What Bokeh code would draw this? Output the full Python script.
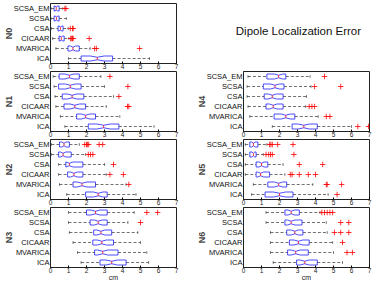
from bokeh.plotting import figure
from bokeh.layouts import row, column
from bokeh.models import Range1d, FixedTicker, ColumnDataSource, Label
from bokeh.embed import file_html
from bokeh.resources import INLINE

CATEGORIES = ["SCSA_EM", "SCSA", "CSA", "CICAAR", "MVARICA", "ICA"]
X_TICKS = [0, 1, 2, 3, 4, 5, 6, 7]
TITLE = "Dipole Localization Error"
X_LABEL = "cm"

# ---- N0 ----
N0_lo = [0.03, 0.03, 0.05, 0.12, 0.30, 1.00]
N0_q1 = [0.20, 0.20, 0.42, 0.48, 0.97, 1.70]
N0_med = [0.32, 0.33, 0.55, 0.60, 1.25, 2.60]
N0_q3 = [0.48, 0.48, 0.70, 0.76, 1.60, 3.45]
N0_hi = [0.68, 0.88, 0.98, 1.02, 2.20, 5.50]
N0_out = [[0.80, 0.86], [], [1.10, 1.22, 1.26], [1.12, 1.18, 1.22, 1.26, 2.15], [2.45, 2.55, 4.95], []]

# ---- N1 ----
N1_lo = [0.15, 0.20, 0.25, 0.30, 0.55, 0.80]
N1_q1 = [0.48, 0.45, 0.65, 0.75, 1.45, 2.10]
N1_med = [1.05, 1.10, 1.20, 1.35, 1.95, 2.95]
N1_q3 = [1.60, 1.70, 1.85, 1.95, 2.50, 3.80]
N1_hi = [2.80, 3.00, 3.50, 3.10, 3.85, 5.75]
N1_out = [[3.30], [4.30], [3.80], [4.28, 4.35], [], []]

# ---- N2 ----
N2_lo = [0.05, 0.05, 0.45, 0.45, 0.50, 0.90]
N2_q1 = [0.50, 0.45, 0.85, 0.95, 1.25, 1.95]
N2_med = [0.75, 0.70, 1.05, 1.30, 1.75, 2.65]
N2_q3 = [1.05, 1.15, 1.80, 1.80, 2.50, 3.15]
N2_hi = [1.60, 1.95, 3.00, 3.10, 4.20, 4.75]
N2_out = [[1.90, 2.00, 2.05, 2.12, 2.70, 2.90], [2.10, 2.22, 2.35], [3.50], [3.30, 4.05], [4.35], []]

# ---- N3 ----
N3_lo = [1.00, 1.00, 1.05, 1.25, 1.50, 1.70]
N3_q1 = [2.00, 2.20, 2.40, 2.35, 2.45, 2.75]
N3_med = [2.50, 2.65, 2.80, 2.85, 2.90, 3.40]
N3_q3 = [3.15, 3.15, 3.40, 3.50, 3.75, 4.20]
N3_hi = [4.65, 4.30, 4.85, 5.00, 5.35, 5.45]
N3_out = [[5.35, 5.95], [5.00], [], [], [], []]

# ---- N4 ----
N4_lo = [0.25, 0.20, 0.20, 0.25, 0.35, 1.60]
N4_q1 = [1.30, 1.10, 1.15, 1.25, 1.70, 2.70]
N4_med = [1.95, 1.75, 1.60, 1.65, 2.35, 3.35]
N4_q3 = [2.35, 2.25, 2.20, 2.20, 2.85, 4.10]
N4_hi = [3.70, 3.75, 3.50, 3.45, 4.15, 6.00]
N4_out = [[4.50], [3.95, 5.40], [], [3.65, 3.80, 3.95], [4.60, 4.80], [6.35, 6.95]]

# ---- N5 ----
N5_lo = [0.10, 0.10, 0.10, 0.10, 0.55, 0.45]
N5_q1 = [0.35, 0.35, 0.70, 0.70, 1.35, 1.20]
N5_med = [0.55, 0.55, 1.00, 0.95, 1.95, 2.00]
N5_q3 = [0.80, 0.70, 1.35, 1.45, 2.40, 2.75]
N5_hi = [1.30, 1.10, 2.20, 2.30, 3.85, 4.70]
N5_out = [[1.45, 1.52, 1.60, 1.90, 2.75], [1.25, 1.40, 1.50, 1.60, 2.80], [3.10, 4.40],
          [2.60, 2.70, 3.10, 3.60, 4.00], [4.60, 4.65, 5.45], [5.20]]

# ---- N6 ----
N6_lo = [1.25, 1.25, 1.50, 1.50, 1.50, 1.65]
N6_q1 = [2.30, 2.30, 2.40, 2.55, 2.45, 2.95]
N6_med = [2.65, 2.65, 2.85, 3.05, 2.90, 3.40]
N6_q3 = [3.10, 3.25, 3.30, 3.65, 3.60, 4.10]
N6_hi = [4.25, 4.60, 4.65, 4.95, 5.00, 5.50]
N6_out = [[4.35, 4.50, 4.65, 4.80, 4.95], [5.40, 5.85], [5.05, 5.40, 5.85], [5.50], [5.75, 6.05], []]

FONT = "Liberation Sans"
BOX_H = 0.25       # half box height (category units)
NOTCH = 0.22       # notch half-width as fraction of IQR
CAP = 0.13

FW = 126   # frame width
FH = 60    # frame height


def panel(name, lo, q1, med, q3, hi, out, mb_left, mb_right, mb_top, mb_bottom, xlabel):
    p = figure(frame_width=FW, frame_height=FH, x_range=Range1d(0, 7), y_range=Range1d(6.5, 0.5),
               output_backend="svg", toolbar_location=None,
               min_border_left=mb_left, min_border_right=mb_right,
               min_border_top=mb_top, min_border_bottom=mb_bottom)
    p.background_fill_color = "white"
    p.border_fill_color = "white"
    p.outline_line_color = "#222222"
    p.outline_line_width = 1
    p.xgrid.visible = False
    p.ygrid.visible = False

    ys = list(range(1, len(CATEGORIES) + 1))
    pxs, pys = [], []
    for y, a, m, b in zip(ys, q1, med, q3):
        d = NOTCH * (b - a)
        nlo, nhi = max(a, m - d), min(b, m + d)
        pxs.append([a, nlo, m, nhi, b, b, nhi, m, nlo, a])
        pys.append([y - BOX_H, y - BOX_H, y - BOX_H / 2, y - BOX_H, y - BOX_H,
                    y + BOX_H, y + BOX_H, y + BOX_H / 2, y + BOX_H, y + BOX_H])
    p.patches(pxs, pys, fill_color=None, line_color="#2020ff", line_width=0.8)

    wsrc = ColumnDataSource(dict(x0=list(lo) + list(q3), x1=list(q1) + list(hi), y=ys + ys))
    p.segment(x0="x0", y0="y", x1="x1", y1="y", source=wsrc, line_color="#333333",
              line_width=0.7, line_dash="3 2")
    csrc = ColumnDataSource(dict(x=list(lo) + list(hi),
                                 y0=[y - CAP for y in ys] * 2, y1=[y + CAP for y in ys] * 2))
    p.segment(x0="x", y0="y0", x1="x", y1="y1", source=csrc, line_color="#333333", line_width=0.7)

    msrc = ColumnDataSource(dict(x=med, y0=[y - BOX_H / 2 for y in ys], y1=[y + BOX_H / 2 for y in ys]))
    p.segment(x0="x", y0="y0", x1="x", y1="y1", source=msrc, line_color="#ff0000", line_width=0.8)

    ox, oy = [], []
    for y, vals in zip(ys, out):
        for v in vals:
            ox.append(v)
            oy.append(y)
    if ox:
        p.scatter(ox, oy, marker="cross", size=5.5, line_color="#ff0000", line_width=0.8)

    p.xaxis.ticker = FixedTicker(ticks=X_TICKS)
    p.xaxis.minor_tick_line_color = None
    p.xaxis.major_tick_in = 2
    p.xaxis.major_tick_out = 0
    p.xaxis.major_label_standoff = 0
    p.xaxis.major_label_text_font = FONT
    p.xaxis.major_label_text_font_size = "6.5px"
    p.xaxis.major_label_text_color = "#222222"
    p.xaxis.axis_line_color = "#222222"
    if xlabel:
        p.xaxis.axis_label = X_LABEL
        p.xaxis.axis_label_text_font = FONT
        p.xaxis.axis_label_text_font_size = "7px"
        p.xaxis.axis_label_text_font_style = "normal"
        p.xaxis.axis_label_text_color = "#222222"
        p.xaxis.axis_label_standoff = -2

    p.yaxis.ticker = FixedTicker(ticks=ys)
    p.yaxis.major_label_overrides = {y: c for y, c in zip(ys, CATEGORIES)}
    p.yaxis.minor_tick_line_color = None
    p.yaxis.major_tick_in = 0
    p.yaxis.major_tick_out = 0
    p.yaxis.major_label_standoff = 1
    p.yaxis.major_label_text_font = FONT
    p.yaxis.major_label_text_font_size = "7.5px"
    p.yaxis.major_label_text_color = "#111111"
    p.yaxis.axis_line_color = "#222222"
    p.yaxis.axis_label = name
    p.yaxis.axis_label_text_font = FONT
    p.yaxis.axis_label_text_font_size = "9px"
    p.yaxis.axis_label_text_font_style = "bold"
    p.yaxis.axis_label_standoff = -3
    return p


LB, LR = 50, 4     # left column borders
RB, RR = 63, 5     # right column borders

f0 = panel("N0", N0_lo, N0_q1, N0_med, N0_q3, N0_hi, N0_out, LB, LR, 3, 8, False)
f1 = panel("N1", N1_lo, N1_q1, N1_med, N1_q3, N1_hi, N1_out, LB, LR, 0, 8, False)
f2 = panel("N2", N2_lo, N2_q1, N2_med, N2_q3, N2_hi, N2_out, LB, LR, 0, 8, False)
f3 = panel("N3", N3_lo, N3_q1, N3_med, N3_q3, N3_hi, N3_out, LB, LR, 0, 18, True)
f4 = panel("N4", N4_lo, N4_q1, N4_med, N4_q3, N4_hi, N4_out, RB, RR, 0, 8, False)
f5 = panel("N5", N5_lo, N5_q1, N5_med, N5_q3, N5_hi, N5_out, RB, RR, 0, 8, False)
f6 = panel("N6", N6_lo, N6_q1, N6_med, N6_q3, N6_hi, N6_out, RB, RR, 0, 18, True)

t = figure(width=RB + FW + RR, height=3 + FH + 8, x_range=Range1d(0, 1), y_range=Range1d(0, 1),
           x_axis_type=None, y_axis_type=None, output_backend="svg", toolbar_location=None,
           min_border=0)
t.outline_line_color = None
t.xgrid.visible = False
t.ygrid.visible = False
t.add_layout(Label(x=0.608, y=0.535, text=TITLE, text_align="center", text_baseline="middle",
                   text_font=FONT, text_font_size="11.5px", text_color="#111111"))

layout = column(row(f0, t), row(f1, f4), row(f2, f5), row(f3, f6))

open("out.html", "w").write(file_html(layout, INLINE))
